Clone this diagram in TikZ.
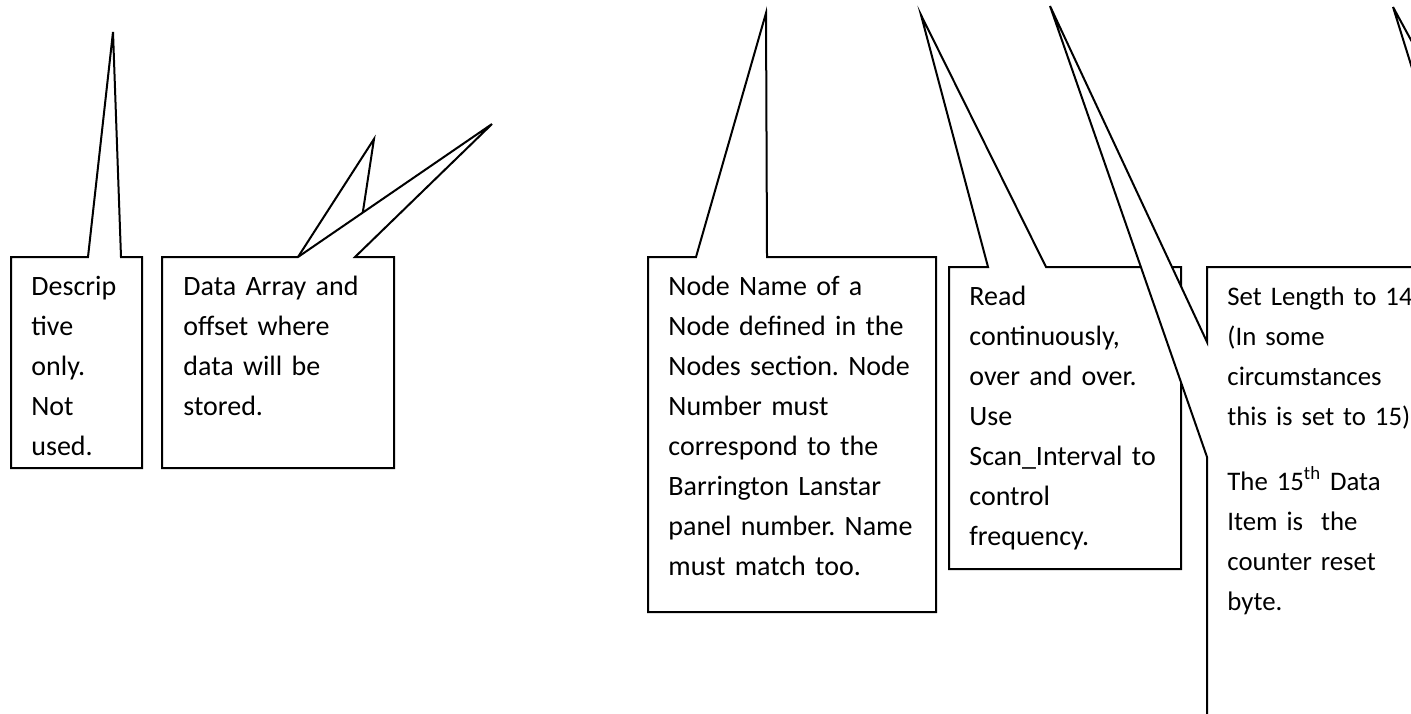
\documentclass[tikz,border=0pt]{standalone}
\usepackage{fontspec}
\setmainfont{Carlito}
\usepackage{tikz}
\frenchspacing
\newcommand{\calloutfont}{\fontsize{14}{20}\selectfont}
\tikzset{callout/.style={draw=black, fill=white, line width=1pt, line join=miter},
         calltext/.style={anchor=base west, inner sep=0pt, text width=#1, align=left,
                          font=\calloutfont}}

\begin{document}
\begin{tikzpicture}[x=0.5pt,y=-0.5pt]
%%%%%%%%%%%%%%%%%%Fix The Page Size%%%%%%%%%%%%%%%%%%
\useasboundingbox (0,0) rectangle (1411,713);

%%%%%%%%%%%%%%Draw Descriptive Callout%%%%%%%%%%%%%%
\draw[callout] (11,257) -- (88,257) -- (113,32) -- (121,257) -- (142,257)
  -- (142,468) -- (11,468) -- cycle;
\node[calltext=50pt] (desctext) at (31,295) {Descrip\\tive\\only.\\Not\\used.};

%%%%%%%%%%%%%%Draw Data Array Callout%%%%%%%%%%%%%%
\draw[callout] (298,257) -- (374,139) -- (356,257);
\draw[callout] (162,257) -- (298,257) -- (492,124) -- (355,257) -- (394,257)
  -- (394,468) -- (162,468) -- cycle;
\node[calltext=100pt] (datatext) at (183,295)
  {Data Array and\\offset where\\data will be\\stored.};

%%%%%%%%%%%%%%Draw Node Name Callout%%%%%%%%%%%%%%
\draw[callout] (648,257) -- (696,257) -- (766,13) -- (767,257) -- (936,257)
  -- (936,612) -- (648,612) -- cycle;
\node[calltext=130pt] (nametext) at (668,295)
  {Node Name of a\\Node defined in the\\Nodes section. Node\\Number must\\correspond to the\\Barrington Lanstar\\panel number. Name\\must match too.};

%%%%%%%%%%%%%%Draw Read Callout%%%%%%%%%%%%%%
\draw[callout] (949,267) -- (988,267) -- (921,15) -- (1046,267) -- (1181,267)
  -- (1181,569) -- (949,569) -- cycle;
\node[calltext=100pt] (readtext) at (969,305)
  {Read\\continuously,\\over and over.\\Use\\Scan\_Interval to\\control\\frequency.};

%%%%%%%%%%%%%%Draw Length Callout (runs off the page)%%%%%%%%%%%%%%
\draw[callout] (1207,267) -- (1440,267) -- (1440,740) -- (1207,740) -- (1207,457)
  -- (1050,6) -- (1207,342) -- cycle;
\node[calltext=90pt, font=\fontsize{13.4}{20}\selectfont] (lentext) at (1227,305)
  {\mbox{Set Length to 14}\\(In some\\circumstances\\\mbox{this is set to 15)}\\[12.5pt]
   The 15\textsuperscript{th} Data\\Item is\ \ the\\counter reset\\byte.};

%%%%%%%%%%%%%%Draw Pointer At The Right Edge%%%%%%%%%%%%%%
\draw[callout] (1430,75) -- (1393,7) -- (1430,126);

\end{tikzpicture}
\end{document}
